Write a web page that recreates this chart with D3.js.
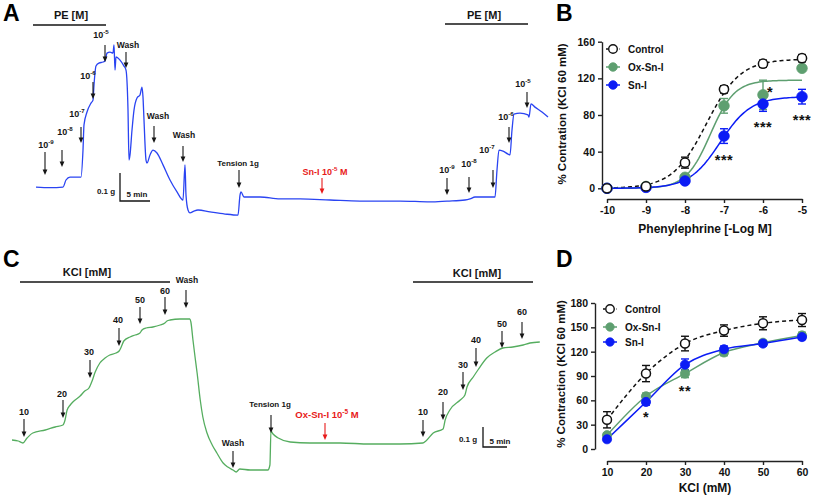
<!DOCTYPE html>
<html><head><meta charset="utf-8">
<script src="https://cdn.jsdelivr.net/npm/d3@7"></script>
<style>
body{margin:0;background:#fff}
text{font-family:"Liberation Sans",Arial,Helvetica,sans-serif;font-weight:bold}
</style>
</head><body>
<svg id="c" width="813" height="497" xmlns="http://www.w3.org/2000/svg"></svg>
<script>
// ---------------- DATA ----------------
// Panel A: isometric tension trace (time in min, tension in g, relative)
const traceA_time = [0,2.8,5.4,6.0,6.8,9.0,9.4,9.6,10.2,11.0,11.4,11.6,12.0,12.6,13.4,13.8,14.2,14.8,15.4,15.6,15.8,16.0,16.8,17.6,18.0,18.4,18.6,18.8,19.2,19.6,20.2,20.8,21.2,21.4,21.6,22.0,22.2,22.8,23.4,24.2,25.4,26.8,28.2,29.4,29.8,30.0,30.4,30.8,31.6,32.4,34.8,37.8,40.4,40.8,41.0,41.6,44.8,48.8,52.8,58.8,64.8,72.8,78.8,82.2,85.8,86.8,87.8,91.8,92.2,92.6,93.4,94.4,94.8,95.2,95.6,96.8,98.4,98.6,99.0,99.8,101.2,102.4];
const traceA_tension = [0.011,0.009,0.011,0.037,0.048,0.048,0.148,0.241,0.289,0.322,0.333,0.389,0.459,0.470,0.474,0.478,0.507,0.511,0.507,0.537,0.444,0.493,0.481,0.459,0.444,0.296,0.111,0.130,0.222,0.296,0.341,0.352,0.381,0.344,0.259,0.111,0.100,0.130,0.148,0.137,0.093,0.037,-0.007,-0.037,0.093,-0.019,-0.074,-0.085,-0.078,-0.074,-0.081,-0.089,-0.093,-0.019,-0.007,-0.026,-0.026,-0.033,-0.033,-0.037,-0.041,-0.041,-0.044,-0.041,-0.037,-0.033,-0.026,-0.026,0.074,0.148,0.144,0.133,0.130,0.222,0.281,0.285,0.278,0.270,0.319,0.307,0.289,0.270];

// Panel C: isometric tension trace
const traceC_time = [0,1.2,2.1,2.9,4.0,6.4,8.3,9.8,10.2,10.6,11.2,11.7,13.1,14.0,14.8,15.0,15.4,16.0,16.9,17.9,18.8,20.0,20.6,21.0,21.5,22.7,23.7,24.6,25.0,25.8,27.1,28.5,29.4,29.8,30.4,32.3,34.2,34.4,34.8,35.2,35.6,36.2,36.7,37.5,38.5,39.4,40.6,41.5,42.5,43.1,43.8,45.8,47.7,49.2,49.6,49.8,50.2,51.2,53.5,57.3,63.1,68.8,74.6,79.0,79.6,81.0,82.9,83.3,84.2,86.2,87.1,87.5,88.7,89.6,91.3,92.9,94.4,96.3,98.3,99.6,101.5];
const traceC_tension = [0.025,0.02,0.01,0.035,0.06,0.075,0.09,0.1,0.125,0.175,0.2,0.215,0.245,0.27,0.285,0.295,0.32,0.365,0.41,0.435,0.45,0.46,0.47,0.49,0.52,0.54,0.55,0.56,0.575,0.585,0.59,0.6,0.61,0.62,0.625,0.63,0.63,0.615,0.525,0.44,0.36,0.225,0.14,0.06,0,-0.04,-0.09,-0.11,-0.125,-0.135,-0.12,-0.125,-0.125,-0.125,-0.1,0.07,0.055,0.035,0.015,0.01,0.01,0.005,0.005,0.01,0.02,0.06,0.08,0.125,0.175,0.225,0.25,0.29,0.34,0.375,0.435,0.465,0.485,0.49,0.5,0.51,0.515];

// Panel B: phenylephrine concentration-response
const seriesNames = ["Control", "Ox-Sn-I", "Sn-I"];
const logPE = [-10, -9, -8, -7, -6, -5];
const pe_control = [0, 2, 28, 108, 136, 142];
const pe_control_sem = [1, 1.5, 6, 4, 4, 4];
const pe_ox = [0, 2, 12, 90, 102, 131];
const pe_ox_sem = [1, 1, 2, 8, 16, 2];
const pe_sn = [0, 1, 8, 57, 92, 100];
const pe_sn_sem = [1, 1, 2, 8, 8, 8];
// sigmoidal fit parameters (top, logEC50, Hill slope)
const fit_top = [141, 118, 100];
const fit_logEC50 = [-7.45, -7.35, -7.1];
const fit_hill = [1.0, 1.4, 1.1];
const peTicksY = [0, 40, 80, 120, 160];

// Panel D: KCl concentration-response
const kcl = [10, 20, 30, 40, 50, 60];
const k_control = [36, 93, 130, 146, 155, 159];
const k_control_sem = [10, 10, 9, 7, 8, 8];
const k_ox = [17, 65, 93, 119, 131, 140];
const k_ox_sem = [3, 4, 5, 4, 3, 4];
const k_sn = [12, 58, 104, 123, 130, 138];
const k_sn_sem = [2, 4, 7, 4, 3, 3];
const kTicksY = [0, 30, 60, 90, 120, 150, 180];

// ---------------- STYLE ----------------
const BLUE_TRACE = "#2a44f2", GREEN_TRACE = "#55ad5f", RED = "#e81a1a";
const COLORS = ["#111111", "#5e9f70", "#0b1cf5"];
const INK = "#151515";

const svg = d3.select("#c");
svg.append("rect").attr("width",813).attr("height",497).attr("fill","#fff");

function label(x, y, base, sup, tail, size, color, anchor){
  const t = svg.append("text").attr("x",x).attr("y",y).attr("text-anchor",anchor||"middle")
    .attr("font-size",size).attr("fill",color||INK);
  t.append("tspan").text(base);
  if (sup){
    t.append("tspan").attr("dy",-size*0.42).attr("font-size",size*0.68).text(sup);
    if (tail) t.append("tspan").attr("dy",size*0.42).text(tail);
  }
  return t;
}
function arrow(x, y1, y2, color){
  color = color || INK;
  svg.append("line").attr("x1",x).attr("x2",x).attr("y1",y1).attr("y2",y2-4)
    .attr("stroke",color).attr("stroke-width",1.1);
  svg.append("path").attr("d",`M${x-2.4},${y2-5.5}L${x+2.4},${y2-5.5}L${x},${y2}Z`).attr("fill",color);
}
function hline(x1,x2,y,w){ svg.append("line").attr("x1",x1).attr("x2",x2).attr("y1",y).attr("y2",y).attr("stroke",INK).attr("stroke-width",w||1.6); }

// panel letters
[["A",3,21],["B",556,21],["C",3,267],["D",556,267]].forEach(([s,x,y])=>{
  svg.append("text").attr("x",x).attr("y",y).attr("font-size",23).attr("fill","#000").text(s);
});

// ---------------- PANEL A ----------------
const xA = d3.scaleLinear().domain([0,100]).range([36,536]);
const yA = d3.scaleLinear().domain([0,0.1]).range([190,163]);
svg.append("path").datum(traceA_time.map((t,i)=>[t,traceA_tension[i]]))
  .attr("d", d3.line().x(d=>xA(d[0])).y(d=>yA(d[1])).curve(d3.curveMonotoneX))
  .attr("fill","none").attr("stroke",BLUE_TRACE).attr("stroke-width",1.3);

label(71,19,"PE [M]",null,null,11); hline(33,106,25);
label(484,19,"PE [M]",null,null,11); hline(445,528,24);

const annA = [
  {lx:46, ly:148, base:"10", sup:"-9", ax:45, y1:152, y2:175},
  {lx:65, ly:135, base:"10", sup:"-8", ax:62, y1:150, y2:167},
  {lx:77, ly:117, base:"10", sup:"-7", ax:81, y1:127, y2:143},
  {lx:88, ly:79, base:"10", sup:"-6", ax:93, y1:82, y2:99},
  {lx:101, ly:38, base:"10", sup:"-5", ax:105, y1:45, y2:62},
  {lx:128, ly:48, base:"Wash", ax:126, y1:52, y2:68, size:8.5},
  {lx:158, ly:119, base:"Wash", ax:154, y1:126, y2:143, size:8.5},
  {lx:184, ly:138, base:"Wash", ax:183, y1:146, y2:162, size:8.5},
  {lx:238, ly:166, base:"Tension 1g", ax:239, y1:170, y2:188, size:8},
  {lx:447, ly:173, base:"10", sup:"-9", ax:447, y1:178, y2:195},
  {lx:469, ly:167, base:"10", sup:"-8", ax:469, y1:177, y2:193},
  {lx:487, ly:153, base:"10", sup:"-7", ax:493, y1:170, y2:188},
  {lx:506, ly:120, base:"10", sup:"-6", ax:509, y1:127, y2:143},
  {lx:523, ly:87, base:"10", sup:"-5", ax:527, y1:92, y2:108}
];
annA.forEach(a=>{ label(a.lx,a.ly,a.base,a.sup,null,a.size||9); arrow(a.ax,a.y1,a.y2); });
label(325,175,"Sn-I 10","-5"," M",9,RED); arrow(322,178,194,RED);

// scale bar A
svg.append("path").attr("d","M120,173V201H150").attr("fill","none").attr("stroke",INK).attr("stroke-width",1.3);
label(106,194,"0.1 g",null,null,8);
label(137,197,"5 min",null,null,8);

// ---------------- PANEL C ----------------
const xC = d3.scaleLinear().domain([0,100]).range([12,532]);
const yC = d3.scaleLinear().domain([0,0.1]).range([445,425]);
svg.append("path").datum(traceC_time.map((t,i)=>[t,traceC_tension[i]]))
  .attr("d", d3.line().x(d=>xC(d[0])).y(d=>yC(d[1])).curve(d3.curveMonotoneX))
  .attr("fill","none").attr("stroke",GREEN_TRACE).attr("stroke-width",1.3);

label(87,276,"KCl [mM]",null,null,11); hline(20,170,282);
label(477,277,"KCl [mM]",null,null,11); hline(413,533,282);

const annC = [
  {lx:24, ly:415, base:"10", ax:24, y1:419, y2:437},
  {lx:62, ly:397, base:"20", ax:63, y1:400, y2:418},
  {lx:89, ly:355, base:"30", ax:90, y1:360, y2:378},
  {lx:118, ly:323, base:"40", ax:119, y1:328, y2:346},
  {lx:140, ly:303, base:"50", ax:140, y1:307, y2:324},
  {lx:165, ly:294, base:"60", ax:165, y1:297, y2:315},
  {lx:187, ly:283, base:"Wash", ax:186, y1:290, y2:308, size:8.5},
  {lx:233, ly:446, base:"Wash", ax:233, y1:451, y2:468, size:8.5},
  {lx:270, ly:407, base:"Tension 1g", ax:271, y1:415, y2:433, size:8},
  {lx:423, ly:415, base:"10", ax:423, y1:420, y2:437},
  {lx:443, ly:395, base:"20", ax:443, y1:402, y2:420},
  {lx:463, ly:368, base:"30", ax:463, y1:372, y2:390},
  {lx:476, ly:343, base:"40", ax:476, y1:348, y2:367},
  {lx:502, ly:327, base:"50", ax:502, y1:331, y2:348},
  {lx:522, ly:315, base:"60", ax:522, y1:322, y2:339}
];
annC.forEach(a=>{ label(a.lx,a.ly,a.base,a.sup,null,a.size||9); arrow(a.ax,a.y1,a.y2); });
label(327,418,"Ox-Sn-I 10","-5"," M",9.5,RED); arrow(325,423,440,RED);

svg.append("path").attr("d","M483,427V447H507").attr("fill","none").attr("stroke",INK).attr("stroke-width",1.3);
label(468,442,"0.1 g",null,null,8);
label(500,444,"5 min",null,null,8);

// ---------------- DOSE-RESPONSE HELPERS ----------------
function styleAxis(g){
  g.attr("font-family",'"Liberation Sans",Arial,sans-serif').attr("font-size",10.5).attr("font-weight","bold");
  g.selectAll("path,line").attr("stroke","#222").attr("stroke-width",1.4);
  g.selectAll("text").attr("fill","#111");
}
function errBars(x, y, xs, ys, sems, color, cap){
  xs.forEach((v,i)=>{
    const px = x(v), top = y(ys[i]+sems[i]), bot = y(ys[i]-sems[i]);
    svg.append("line").attr("x1",px).attr("x2",px).attr("y1",top).attr("y2",bot).attr("stroke",color).attr("stroke-width",1.4);
    [top,bot].forEach(yy=>svg.append("line").attr("x1",px-cap).attr("x2",px+cap).attr("y1",yy).attr("y2",yy).attr("stroke",color).attr("stroke-width",1.4));
  });
}
function points(x, y, xs, ys, color, open, r){
  xs.forEach((v,i)=>{
    svg.append("circle").attr("cx",x(v)).attr("cy",y(ys[i])).attr("r",r)
      .attr("fill",open?"#fff":color).attr("stroke",color).attr("stroke-width",open?1.5:0.8);
  });
}
function legend(lx, tx, ys, r){
  seriesNames.forEach((n,i)=>{
    const c = COLORS[i];
    svg.append("line").attr("x1",lx-7).attr("x2",lx+7).attr("y1",ys[i]).attr("y2",ys[i])
      .attr("stroke",c).attr("stroke-width",1.5).attr("stroke-dasharray",i===0?"2.5,2":null);
    svg.append("circle").attr("cx",lx).attr("cy",ys[i]).attr("r",r)
      .attr("fill",i===0?"#fff":c).attr("stroke",c).attr("stroke-width",i===0?1.4:0.8);
    svg.append("text").attr("x",tx).attr("y",ys[i]+3.6).attr("font-size",10).attr("fill","#111").text(n);
  });
}
function stars(s, cx, cy){
  svg.append("text").attr("x",cx).attr("y",cy+8).attr("text-anchor","middle").attr("font-size",14.5)
    .attr("letter-spacing",0.5).attr("fill","#111").text(s);
}

// ---------------- PANEL B ----------------
const xB = d3.scaleLinear().domain([-10,-5]).range([607,802]);
const yB = d3.scaleLinear().domain([0,160]).range([188.3,41.7]);
svg.append("g").attr("transform","translate(0,199)")
  .call(d3.axisBottom(xB).tickValues(logPE).tickSize(4).tickSizeOuter(0).tickPadding(4).tickFormat(d=>String(d)))
  .call(styleAxis);
svg.append("g").attr("transform","translate(602,0)")
  .call(d3.axisLeft(yB).tickValues(peTicksY).tickSize(4).tickSizeOuter(0).tickPadding(3))
  .call(styleAxis);
svg.append("text").attr("x",705).attr("y",233).attr("text-anchor","middle").attr("font-size",12).attr("fill","#111")
  .text("Phenylephrine [-Log M]");
svg.append("text").attr("transform","translate(566,114) rotate(-90)").attr("text-anchor","middle")
  .attr("font-size",11.5).attr("fill","#111").text("% Contration (KCl 60 mM)");

const fineX = d3.range(-10, -4.999, 0.05);
[0,1,2].forEach(k=>{
  const f = v => fit_top[k] / (1 + Math.pow(10, (fit_logEC50[k] - v) * fit_hill[k]));
  svg.append("path").datum(fineX).attr("d", d3.line().x(v=>xB(v)).y(v=>yB(f(v))))
    .attr("fill","none").attr("stroke",COLORS[k]).attr("stroke-width",1.5)
    .attr("stroke-dasharray",k===0?"4,3":null);
});
errBars(xB,yB,logPE,pe_ox,pe_ox_sem,COLORS[1],4);
errBars(xB,yB,logPE,pe_sn,pe_sn_sem,COLORS[2],4);
errBars(xB,yB,logPE,pe_control,pe_control_sem,COLORS[0],4);
points(xB,yB,logPE,pe_ox,COLORS[1],false,5.3);
points(xB,yB,logPE,pe_sn,COLORS[2],false,5.3);
points(xB,yB,logPE,pe_control,COLORS[0],true,4.6);
legend(613,628,[49,67,85],4.3);
stars("***",724,157);
stars("***",763,124);
stars("***",802,117);
stars("*",770,89);

// ---------------- PANEL D ----------------
const xD = d3.scaleLinear().domain([10,60]).range([607,802]);
const yD = d3.scaleLinear().domain([0,180]).range([449,303]);
svg.append("g").attr("transform","translate(0,461)")
  .call(d3.axisBottom(xD).tickValues(kcl).tickSize(4).tickSizeOuter(0).tickPadding(4))
  .call(styleAxis);
svg.append("g").attr("transform","translate(595,0)")
  .call(d3.axisLeft(yD).tickValues(kTicksY).tickSize(4).tickSizeOuter(0).tickPadding(3))
  .call(styleAxis);
svg.append("text").attr("x",705).attr("y",492).attr("text-anchor","middle").attr("font-size",12).attr("fill","#111")
  .text("KCl (mM)");
svg.append("text").attr("transform","translate(565,374) rotate(-90)").attr("text-anchor","middle")
  .attr("font-size",11.5).attr("fill","#111").text("% Contraction (KCl 60 mM)");

const lineD = d3.line().x(d=>xD(d[0])).y(d=>yD(d[1])).curve(d3.curveMonotoneX);
[[k_control,0],[k_ox,1],[k_sn,2]].forEach(([ys,k])=>{
  svg.append("path").datum(kcl.map((v,i)=>[v,ys[i]])).attr("d",lineD)
    .attr("fill","none").attr("stroke",COLORS[k]).attr("stroke-width",1.5)
    .attr("stroke-dasharray",k===0?"4,3":null);
});
errBars(xD,yD,kcl,k_ox,k_ox_sem,COLORS[1],4);
errBars(xD,yD,kcl,k_sn,k_sn_sem,COLORS[2],4);
errBars(xD,yD,kcl,k_control,k_control_sem,COLORS[0],4);
points(xD,yD,kcl,k_ox,COLORS[1],false,4.6);
points(xD,yD,kcl,k_sn,COLORS[2],false,4.6);
points(xD,yD,kcl,k_control,COLORS[0],true,4.5);
legend(610,625,[309,327,342],4.2);
stars("*",646,414);
stars("**",685,388);
</script>
</body></html>
